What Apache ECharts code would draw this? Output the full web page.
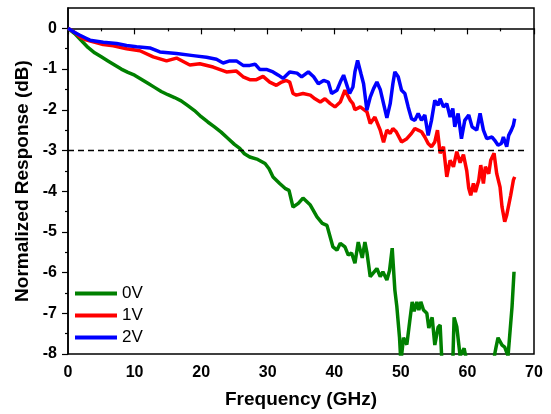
<!DOCTYPE html>
<html>
<head>
<meta charset="utf-8">
<script src="https://cdn.jsdelivr.net/npm/echarts@6/dist/echarts.min.js"></script>
<style>html,body{margin:0;padding:0;background:#fff}#c{width:551px;height:414px}</style>
</head>
<body>
<div id="c"></div>
<script>
// ---- data ----
const freq0V = [0,1,2,3,4,5,6,7,8,9,10,11,12,13,14,15,16,17,18,19,20,21,22,23,24,25,25.8,26.5,27.3,28.5,29.6,30.2,30.8,31.8,32.6,33.2,33.8,34.6,35.3,36.4,37.4,38.2,38.9,39.8,40.4,40.9,41.6,42.1,42.6,43.1,43.6,44.2,44.6,44.9,45.4,46.4,46.9,47.3,47.9,48.3,48.7,49.1,49.4,49.8,50.0,50.4,50.9,51.3,51.7,52.0,52.4,52.7,53.0,53.4,53.9,54.2,54.7,55.1,55.6,55.9,56.2,57.0,57.8,58.0,58.4,58.9,59.5,59.8,60.5,63.8,64.1,64.3,64.6,65.2,65.6,66.1,66.7,67.0];
const resp0V = [0,-0.13,-0.3,-0.47,-0.6,-0.7,-0.8,-0.9,-1.0,-1.08,-1.15,-1.25,-1.35,-1.45,-1.55,-1.63,-1.7,-1.78,-1.9,-2.02,-2.17,-2.3,-2.42,-2.55,-2.7,-2.85,-2.95,-3.08,-3.16,-3.22,-3.32,-3.45,-3.65,-3.81,-3.93,-3.98,-4.39,-4.3,-4.17,-4.34,-4.63,-4.79,-4.84,-5.37,-5.45,-5.28,-5.37,-5.57,-5.52,-5.77,-5.25,-5.64,-5.25,-5.5,-6.1,-5.9,-6.1,-5.98,-6.18,-5.95,-5.4,-6.43,-6.84,-7.6,-8.2,-7.6,-7.77,-7.24,-6.72,-6.95,-6.72,-6.92,-6.72,-6.92,-7.0,-7.36,-7.1,-7.78,-7.34,-7.29,-8.3,-8.5,-8.2,-7.1,-7.33,-8.05,-7.86,-8.1,-8.5,-8.5,-8.0,-7.83,-7.6,-7.78,-7.83,-8.05,-6.84,-5.98];

const freq1V = [0,1,1.8,2.8,3.5,5.3,6.8,8.8,10.8,12.8,14.8,16.3,18.3,19.8,21.8,23.8,25.3,26.3,27.3,28.3,29.3,30.3,31.3,32.1,32.8,33.3,33.8,34.3,35.3,36.4,37.1,37.9,38.6,39.4,40.1,40.9,41.6,42.4,42.8,43.1,43.9,44.9,45.4,46.1,46.9,47.4,47.9,48.4,48.8,49.3,49.6,50.1,50.9,51.6,52.1,52.6,53.1,53.6,54.1,54.6,55.1,55.5,55.9,56.4,56.9,57.4,57.9,58.4,58.9,59.4,59.9,60.2,60.5,60.9,61.2,61.7,62.0,62.4,62.7,63.2,63.5,64.0,64.4,64.9,65.2,65.6,65.9,66.2,66.5,66.9,67.1];
const resp1V = [0,-0.1,-0.21,-0.29,-0.32,-0.4,-0.43,-0.5,-0.55,-0.7,-0.8,-0.73,-0.9,-0.87,-0.95,-1.07,-1.05,-1.19,-1.26,-1.26,-1.18,-1.32,-1.4,-1.32,-1.28,-1.32,-1.6,-1.64,-1.6,-1.64,-1.73,-1.81,-1.73,-1.85,-1.93,-1.81,-1.52,-1.77,-1.85,-2.0,-1.93,-2.05,-2.34,-2.18,-2.5,-2.8,-2.5,-2.58,-2.46,-2.54,-2.5,-2.79,-2.71,-2.58,-2.46,-2.5,-2.54,-2.67,-2.83,-2.91,-2.79,-2.5,-3.07,-2.91,-3.65,-3.24,-3.4,-3.03,-3.3,-3.1,-3.5,-3.93,-4.1,-3.81,-4.02,-3.73,-3.36,-3.81,-3.4,-3.57,-3.24,-3.07,-3.57,-3.9,-4.39,-4.75,-4.59,-4.63,-4.1,-3.73,-3.65];

const freq2V = [0,1,1.8,2.8,3.3,5.3,7.3,8.8,10.3,12.3,13.8,16.3,18.8,20.8,22.3,23.3,24.3,25.3,26.3,27.3,28.1,28.8,29.8,30.8,31.6,32.3,33.3,34.4,35.1,36.1,36.9,37.6,38.4,39.1,39.6,40.4,40.9,41.4,41.9,42.3,42.8,43.1,43.5,44.0,44.4,44.9,45.4,45.9,46.4,46.9,47.4,47.9,48.4,48.8,49.1,49.6,50.1,50.6,51.1,51.6,52.1,52.6,53.1,53.6,54.1,54.6,55.1,55.6,55.9,56.4,56.9,57.4,57.8,58.1,58.6,59.1,59.6,60.2,60.7,61.4,61.9,62.4,62.9,63.7,64.1,64.6,65.1,65.4,65.9,66.2,66.6,66.9,67.1];
const resp2V = [0,-0.1,-0.17,-0.25,-0.29,-0.34,-0.37,-0.42,-0.45,-0.48,-0.58,-0.62,-0.67,-0.71,-0.76,-0.85,-0.8,-0.8,-0.91,-0.91,-0.88,-1.01,-1.01,-1.07,-1.15,-1.23,-1.07,-1.1,-1.19,-1.07,-1.19,-1.36,-1.28,-1.32,-1.6,-1.52,-1.32,-1.15,-1.4,-1.6,-1.44,-1.07,-0.79,-1.11,-1.36,-2.01,-1.69,-1.48,-1.32,-1.5,-1.85,-2.2,-1.85,-1.36,-1.07,-1.19,-1.52,-1.6,-1.93,-2.22,-2.26,-2.09,-2.26,-2.13,-2.63,-2.26,-1.77,-1.89,-1.73,-1.93,-1.85,-2.18,-1.97,-2.42,-2.09,-2.71,-2.26,-2.13,-2.42,-2.5,-2.09,-2.5,-2.71,-2.67,-2.75,-2.87,-2.83,-2.67,-2.91,-2.63,-2.5,-2.38,-2.22];

const seriesNames = ['0V','1V','2V'];
const seriesColors = ['#008000','#ff0000','#0000ff'];
const threshold = -3;
const thresholdRange = [0, 69];
const yMajorTicks = [-8,-7,-6,-5,-4,-3,-2,-1,0];
const yMinorTicks = [-7.5,-6.5,-5.5,-4.5,-3.5,-2.5,-1.5,-0.5];

const zip = (xs, ys) => xs.map((x, i) => [x, ys[i]]);
const datasets = [zip(freq0V, resp0V), zip(freq1V, resp1V), zip(freq2V, resp2V)];

const chart = echarts.init(document.getElementById('c'), null, {renderer: 'canvas'});
const FONT = '"Liberation Sans", Arial, Helvetica, sans-serif';
const axisText = {color: '#000', fontFamily: FONT, fontWeight: 'bold', fontSize: 16};

const series = datasets.map((d, i) => ({
  name: seriesNames[i],
  type: 'line',
  data: d,
  showSymbol: false,
  symbol: 'none',
  clip: true,
  lineStyle: {color: seriesColors[i], width: 3.5},
  itemStyle: {color: seriesColors[i]},
  z: 2 + i,
  animation: false
}));
series[0].markLine = {
  silent: true,
  symbol: 'none',
  label: {show: false},
  lineStyle: {color: '#000', type: [6, 4], width: 1.3},
  data: [[{coord: [thresholdRange[0], threshold]}, {coord: [thresholdRange[1], threshold]}]],
  animation: false
};

chart.setOption({
  animation: false,
  backgroundColor: '#fff',
  grid: {left: 68, right: 17, top: 8, bottom: 60, show: true, borderColor: '#000', borderWidth: 1.5, containLabel: false},
  legend: {
    orient: 'vertical', left: 75, top: 285, padding: 0, itemWidth: 42, itemHeight: 4, itemGap: 5,
    icon: 'rect',
    textStyle: {fontFamily: FONT, fontSize: 17, color: '#000'},
    data: seriesNames
  },
  xAxis: {
    type: 'value', min: 0, max: 70, interval: 10,
    name: 'Frequency (GHz)', nameLocation: 'middle', nameGap: 36,
    nameTextStyle: {color: '#000', fontFamily: FONT, fontWeight: 'bold', fontSize: 19},
    axisLine: {show: true, lineStyle: {color: '#000', width: 1.5}},
    axisTick: {show: true, inside: false, length: 6, lineStyle: {color: '#000', width: 1.2}},
    minorTick: {show: true, splitNumber: 2, length: 3, lineStyle: {color: '#000', width: 1.2}},
    splitLine: {show: false},
    axisLabel: Object.assign({margin: 11}, axisText)
  },
  yAxis: [{
    type: 'value', min: -8, max: 0.5,
    name: 'Normalized Response (dB)', nameLocation: 'middle', nameGap: 31, nameRotate: 90,
    nameTextStyle: {color: '#000', fontFamily: FONT, fontWeight: 'bold', fontSize: 19},
    axisLine: {show: true, lineStyle: {color: '#000', width: 1.5}},
    axisTick: {show: true, inside: false, length: 6, customValues: yMajorTicks, lineStyle: {color: '#000', width: 1.2}},
    splitLine: {show: false},
    axisLabel: Object.assign({margin: 11, customValues: yMajorTicks}, axisText)
  }, {
    type: 'value', min: -8, max: 0.5, position: 'left',
    axisLine: {show: false},
    axisTick: {show: true, inside: false, length: 3, customValues: yMinorTicks, lineStyle: {color: '#000', width: 1.2}},
    axisLabel: {show: false},
    splitLine: {show: false}
  }],
  series: series
});
</script>
</body>
</html>
